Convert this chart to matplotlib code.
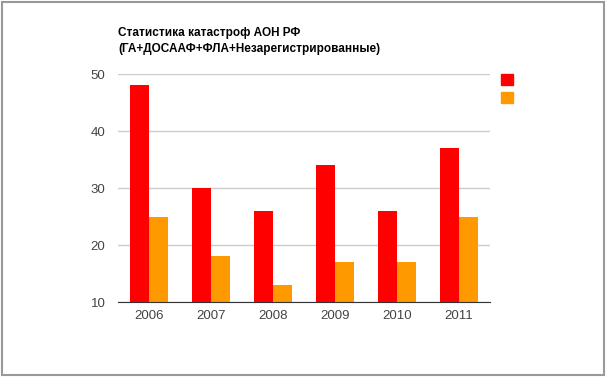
import numpy as np
import matplotlib.pyplot as plt
from matplotlib.patches import Patch, Rectangle

plt.rcParams['font.family'] = ['Liberation Sans', 'DejaVu Sans']

years = ['2006', '2007', '2008', '2009', '2010', '2011']
series_red = [48, 30, 26, 34, 26, 37]
series_orange = [25, 18, 13, 17, 17, 25]
title = 'Статистика катастроф АОН РФ\n(ГА+ДОСААФ+ФЛА+Незарегистрированные)'

red = '#ff0000'
orange = '#ff9900'

fig = plt.figure(figsize=(6.07, 3.78), dpi=100)
ax = fig.add_axes([0.1944, 0.201, 0.613, 0.603])

x = np.arange(len(years))
w = 0.3
ax.bar(x - w / 2, series_red, w, color=red, zorder=3)
ax.bar(x + w / 2, series_orange, w, color=orange, zorder=3)

ax.set_xlim(-0.5, len(years) - 0.5)
ax.set_ylim(10, 50)
ax.set_yticks([10, 20, 30, 40, 50])
ax.set_xticks(x)
ax.set_xticklabels(years)
ax.grid(axis='y', color='#cccccc', linewidth=1, zorder=0)
for s in ['top', 'right', 'left']:
    ax.spines[s].set_visible(False)
ax.spines['bottom'].set_color('#333333')
ax.spines['bottom'].set_zorder(4)
ax.tick_params(length=0, labelsize=9.5, colors='#444444', pad=6)
ax.tick_params(axis='y', pad=9)

fig.text(0.1944, 0.855, title, fontsize=8.5, fontweight='bold', va='bottom', ha='left',
         linespacing=1.4, color='black')

handles = [Patch(color=red), Patch(color=orange)]
fig.legend(handles, ['', ''], loc='upper left', bbox_to_anchor=(0.825, 0.805),
           frameon=False, handlelength=1.0, handleheight=1.0, fontsize=9,
           labelspacing=0.45, borderaxespad=0, borderpad=0)

fig.patches.append(Rectangle((0.004, 0.008), 0.991, 0.986, transform=fig.transFigure,
                             fill=False, edgecolor='#999999', linewidth=1.5))

fig.savefig('out.png', dpi=100)
